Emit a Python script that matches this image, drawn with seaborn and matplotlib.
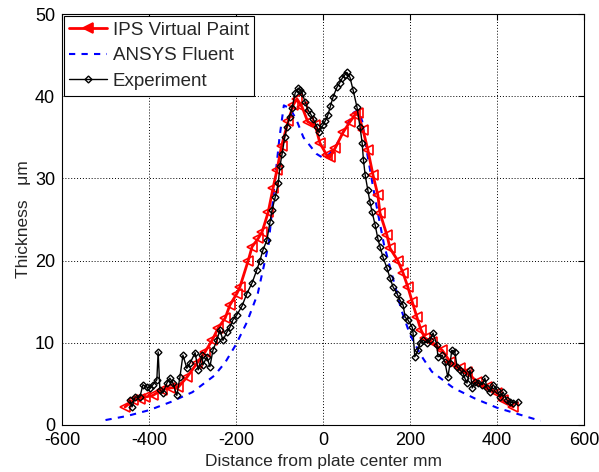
import numpy as np
import pandas as pd
import seaborn as sns
import matplotlib
matplotlib.use("Agg")
import matplotlib.pyplot as plt

# ---- data ----
ips_x = [-455, -437, -420, -409, -391, -370, -352, -333, -313, -290, -271, -255, -241, -225, -214,
         -198, -191, -172, -163, -149, -140, -126, -115, -106, -95, -80, -68, -60, -48, -35, -18,
         -7, 9, 16, 28, 46, 62, 73, 80, 92, 103, 115, 126, 131, 147, 154, 172, 184, 195, 205,
         216, 225, 234, 250, 274, 292, 315, 331, 354, 377, 400, 414, 437]
ips_y = [2.2, 3.0, 3.2, 3.4, 3.6, 4.3, 4.5, 4.6, 5.8, 7.5, 8.9, 10.3, 11.8, 13.0, 14.6,
         16.0, 16.8, 20.0, 21.7, 22.7, 23.5, 25.9, 28.8, 31.0, 34.0, 37.0, 39.0, 39.7, 38.7, 36.9, 36.5,
         34.3, 32.8, 32.6, 33.7, 35.6, 36.9, 37.7, 38.0, 35.9, 33.5, 30.4, 28.0, 25.8, 23.1, 21.5, 20.0, 18.5, 16.8, 15.0,
         13.1, 11.6, 10.6, 10.1, 9.1, 7.7, 6.9, 6.5, 5.2, 4.6, 3.9, 3.0, 2.2]

ansys_x = [-500, -450, -400, -350, -300, -250, -225, -200, -175, -150, -125, -110, -100, -90, -75, -60,
           -45, -30, -15, 0, 15, 30, 50, 70, 80, 90, 100, 120, 140, 160, 180, 200, 225, 250,
           300, 350, 400, 450, 500]
ansys_y = [0.6, 1.1, 1.8, 2.8, 4.0, 6.0, 7.6, 9.8, 12.5, 16.0, 22.0, 30.0, 35.0, 38.9, 38.5, 37.0,
           35.0, 34.0, 33.0, 32.5, 33.0, 34.0, 36.0, 38.0, 38.3, 37.0, 33.5, 27.5, 22.0, 18.0, 14.0, 11.0, 8.5, 6.5,
           4.5, 3.2, 2.1, 1.3, 0.5]

exp_x = [-444, -439, -432, -421, -414, -405, -398, -391, -382, -379, -375, -368, -359, -352, -345,
         -336, -329, -322, -313, -306, -294, -287, -278, -276, -267, -260, -253, -244, -237, -230,
         -221, -214, -207, -198, -186, -175, -163, -152, -145, -138, -129, -122, -117, -110, -103,
         -99, -94, -88, -83, -77, -71, -64, -57, -52, -48, -41, -34, -28, -23, -14, -9, 0, 5, 11,
         17, 23, 32, 38, 44, 50, 55, 62, 69, 78, 85, 90, 93, 97, 103, 108, 113, 120, 126, 131,
         138, 147, 154, 161, 170, 177, 184, 189, 195, 205, 207, 211, 218, 223, 230, 239, 246,
         253, 262, 264, 274, 280, 287, 292, 296, 303, 308, 315, 322, 326, 331, 338, 343, 349,
         356, 366, 372, 377, 384, 391, 400, 407, 414, 423, 430, 437, 448]
exp_y = [3.0, 2.2, 3.4, 3.4, 4.9, 4.6, 4.5, 4.9, 5.5, 8.9, 4.3, 3.9, 5.1, 5.7, 5.1,
         3.6, 5.8, 8.5, 6.9, 7.5, 8.8, 6.7, 8.5, 7.3, 8.3, 7.1, 9.1, 10.3, 11.6, 10.3,
         11.3, 11.9, 12.8, 13.4, 14.5, 16.0, 17.3, 18.9, 20.0, 21.3, 22.5, 24.7, 26.2, 27.7, 29.4,
         31.5, 33.0, 35.0, 36.3, 37.5, 38.6, 40.4, 41.0, 40.8, 40.4, 39.3, 38.3, 37.8, 37.3, 36.3, 35.6, 36.5, 37.0, 37.7,
         38.8, 39.9, 41.1, 41.6, 42.2, 42.6, 42.9, 42.3, 40.8, 38.7, 36.3, 34.3, 32.2, 30.4, 28.6, 27.1, 25.9, 24.3, 22.7, 21.7,
         20.4, 19.1, 17.9, 16.8, 16.0, 15.2, 14.6, 13.1, 12.8, 11.9, 11.2, 8.3, 9.1, 10.0, 10.3, 10.0, 10.3,
         11.2, 9.7, 8.3, 8.5, 7.7, 5.8, 7.5, 9.1, 8.9, 7.1, 6.7, 6.3, 5.7, 5.1, 6.7, 4.5, 5.2,
         5.1, 4.9, 5.7, 4.5, 4.0, 4.9, 4.3, 3.4, 4.0, 3.0, 2.8, 2.7, 2.8]

x_ticks = [-600, -400, -200, 0, 200, 400, 600]
y_ticks = [0, 10, 20, 30, 40, 50]

# ---- plot ----
sns.set_style("white")
plt.rcParams['font.family'] = ['Liberation Sans', 'DejaVu Sans']
plt.rcParams['font.size'] = 13

fig = plt.figure(figsize=(5.99, 4.72), dpi=100)
ax = fig.add_axes([0.1035, 0.0996, 0.8715, 0.8704])

ips = pd.DataFrame({"x": ips_x, "y": ips_y})
ans = pd.DataFrame({"x": ansys_x, "y": ansys_y})
exp = pd.DataFrame({"x": exp_x, "y": exp_y})

sns.lineplot(data=ips, x="x", y="y", ax=ax, sort=False, estimator=None, color="#ff0000",
             linewidth=2, marker="<", markersize=7, markerfacecolor="none",
             markeredgecolor="#ff0000", markeredgewidth=1.2, label="IPS Virtual Paint", zorder=3)
sns.lineplot(data=ans, x="x", y="y", ax=ax, sort=False, estimator=None, color="#0000ff",
             linewidth=1.5, linestyle="--", dashes=False, label="ANSYS Fluent", zorder=2)
ax.lines[-1].set_linestyle((0, (3, 3)))
sns.lineplot(data=exp, x="x", y="y", ax=ax, sort=False, estimator=None, color="black",
             linewidth=1, marker="D", markersize=3.5, markerfacecolor="none",
             markeredgecolor="black", markeredgewidth=1, label="Experiment", zorder=4)

ax.set_xlim(-600, 600)
ax.set_ylim(0, 50)
ax.set_xticks(x_ticks)
ax.set_yticks(y_ticks)
ax.set_xticklabels([str(v) for v in x_ticks], fontsize=13)
ax.set_yticklabels([str(v) for v in y_ticks], fontsize=13)
ax.set_xlabel("Distance from plate center mm", fontsize=12.5, labelpad=4)
ax.set_ylabel("Thickness   \u03bcm", fontsize=12.5, labelpad=3)
ax.grid(True, linestyle=(0, (1, 2)), color="black", linewidth=0.7)
ax.tick_params(direction="in", top=True, right=True, length=4, colors="black")
ax.tick_params(axis="y", pad=5)
ax.tick_params(axis="x", pad=5)
for s in ax.spines.values():
    s.set_color("black")
    s.set_linewidth(0.8)

leg = ax.legend(loc="upper left", fontsize=13.5, frameon=True, fancybox=False,
                borderaxespad=0.1, handlelength=2.0, handletextpad=0.3, borderpad=0.3,
                labelspacing=0.45)
leg.get_frame().set_edgecolor("black")
leg.get_frame().set_linewidth(0.8)
leg.get_frame().set_alpha(1)
for h in leg.legend_handles:
    if h.get_marker() == "<":
        h.set_markerfacecolor("#ff0000")

fig.savefig("out.png", dpi=100)
